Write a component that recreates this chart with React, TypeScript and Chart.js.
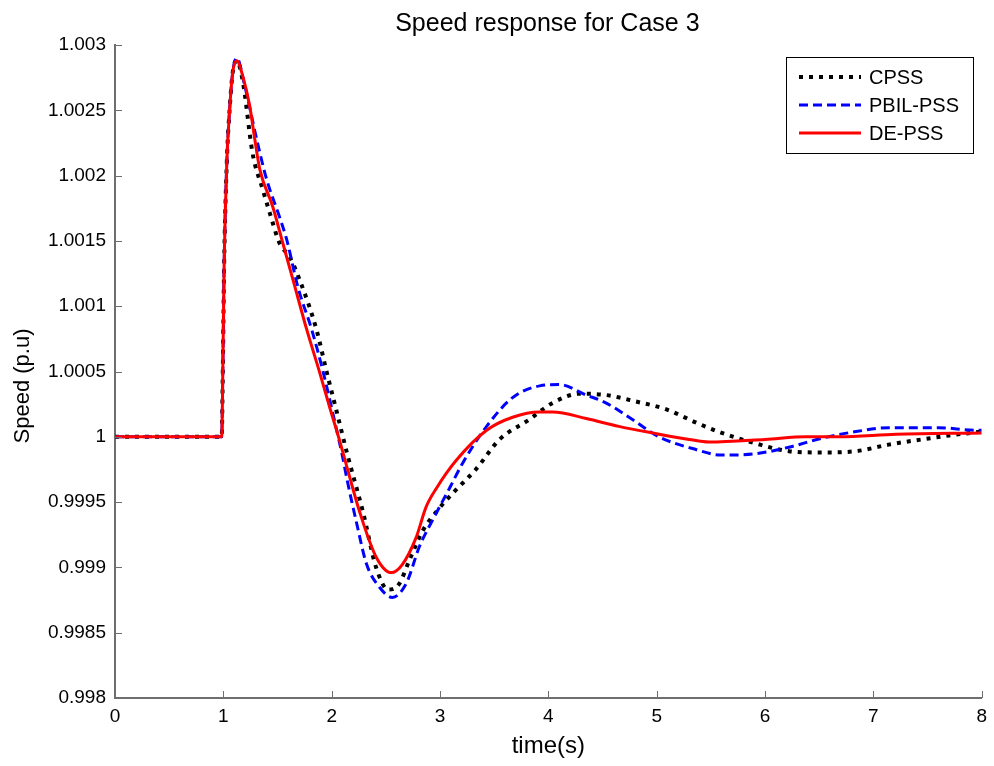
import React, { useEffect, useRef } from "react";
import { Chart, registerables } from "chart.js";

Chart.register(...registerables);

const chartTitle = "Speed response for Case 3";
const xAxisTitle = "time(s)";
const yAxisTitle = "Speed (p.u)";
const seriesNames = ["CPSS", "PBIL-PSS", "DE-PSS"];

const xTicks = [0, 1, 2, 3, 4, 5, 6, 7, 8];
const xTickLabels = ["0", "1", "2", "3", "4", "5", "6", "7", "8"];
const yTicks = [0.998, 0.9985, 0.999, 0.9995, 1.0, 1.0005, 1.001, 1.0015, 1.002, 1.0025, 1.003];
const yTickLabels = ["0.998", "0.9985", "0.999", "0.9995", "1", "1.0005", "1.001", "1.0015", "1.002", "1.0025", "1.003"];

const cpssT = [0, 0.985, 0.995, 1.007, 1.032, 1.06, 1.088, 1.124, 1.18, 1.27, 1.365, 1.43, 1.52, 1.61, 1.705, 1.86, 1.95, 2.05, 2.14, 2.29, 2.41, 2.52, 2.62, 2.72, 2.84, 2.97, 3.12, 3.33, 3.55, 3.82, 4.04, 4.29, 4.53, 4.81, 5.09, 5.36, 5.6, 5.91, 6.22, 6.53, 6.84, 7.14, 7.45, 7.7, 8.0];
const cpssV = [1.0, 1.0, 1.0005, 1.0013, 1.0021, 1.00253, 1.0028, 1.00288, 1.00272, 1.00217, 1.00189, 1.00171, 1.00148, 1.00138, 1.0012, 1.00082, 1.00051, 1.00018, 0.99988, 0.99942, 0.999, 0.99883, 0.99887, 0.99906, 0.99928, 0.99943, 0.99957, 0.99975, 0.99998, 1.00013, 1.00026, 1.00033, 1.00032, 1.00027, 1.00021, 1.00011, 1.00003, 0.99995, 0.99989, 0.99988, 0.99989, 0.99994, 0.99998, 1.00001, 1.00004];

const pbilT = [0, 0.985, 0.995, 1.007, 1.032, 1.06, 1.088, 1.124, 1.2, 1.31, 1.4, 1.52, 1.585, 1.687, 1.816, 1.92, 2.03, 2.1, 2.14, 2.23, 2.32, 2.44, 2.56, 2.69, 2.81, 2.93, 3.09, 3.21, 3.43, 3.67, 3.92, 4.1, 4.35, 4.53, 4.78, 5.02, 5.33, 5.6, 5.91, 6.22, 6.53, 6.84, 7.14, 7.6, 7.94, 8.0];
const pbilV = [1.0, 1.0, 1.0005, 1.0013, 1.0021, 1.00253, 1.0028, 1.0029, 1.00268, 1.00227, 1.00197, 1.00168, 1.00151, 1.00115, 1.00082, 1.0005, 1.00011, 0.99985, 0.99968, 0.99934, 0.99903, 0.99885, 0.99877, 0.99888, 0.99916, 0.99936, 0.99961, 0.9998, 1.00008, 1.0003, 1.00039, 1.0004, 1.00032, 1.00026, 1.00013, 1.0, 0.99991, 0.99986, 0.99987, 0.99992, 0.99999, 1.00004, 1.00007, 1.00007, 1.00005, 1.00005];

const deT = [0, 0.985, 0.995, 1.007, 1.032, 1.06, 1.088, 1.124, 1.18, 1.244, 1.29, 1.336, 1.457, 1.55, 1.65, 1.77, 1.89, 1.98, 2.07, 2.16, 2.26, 2.41, 2.55, 2.65, 2.78, 2.87, 2.97, 3.15, 3.43, 3.67, 3.92, 4.04, 4.35, 4.65, 4.96, 5.3, 5.48, 6.0, 6.38, 6.68, 7.21, 8.0];
const deV = [1.0, 1.0, 1.0005, 1.0013, 1.0021, 1.00253, 1.0028, 1.00288, 1.00276, 1.00253, 1.00228, 1.00205, 1.00176, 1.00148, 1.00118, 1.00082, 1.00049, 1.00023, 0.99998, 0.99971, 0.99942, 0.99908, 0.99896, 0.99902, 0.99923, 0.99946, 0.99961, 0.99982, 1.00005, 1.00015, 1.00019, 1.00019, 1.00014, 1.00008, 1.00003, 0.99998, 0.99996, 0.99998, 1.0, 1.0, 1.00002, 1.00003];

const FONT = "'Liberation Sans', Arial, Helvetica, sans-serif";
const AXIS_COLOR = "#6e6e6e";

const toPoints = (t: number[], v: number[]) => t.map((x, i) => ({ x, y: v[i] }));

const styles = [
  { color: "#000000", width: 4, dash: [4, 6], order: 3 },
  { color: "#0000ff", width: 3, dash: [9, 5], order: 2 },
  { color: "#ff0000", width: 3, dash: [] as number[], order: 1 },
];

const decorPlugin = {
  id: "decor",
  afterDraw(chart: any) {
    const { ctx, chartArea, scales } = chart;
    const xs = scales.x;
    const ys = scales.y;
    ctx.save();
    // inward ticks
    ctx.strokeStyle = AXIS_COLOR;
    ctx.lineWidth = 1;
    const tl = 7;
    xTicks.forEach((v) => {
      const px = Math.round(xs.getPixelForValue(v)) + 0.5;
      ctx.beginPath();
      ctx.moveTo(px, chartArea.bottom);
      ctx.lineTo(px, chartArea.bottom - tl);
      ctx.stroke();
    });
    yTicks.forEach((v) => {
      const py = Math.round(ys.getPixelForValue(v)) + 0.5;
      ctx.beginPath();
      ctx.moveTo(chartArea.left, py);
      ctx.lineTo(chartArea.left + tl, py);
      ctx.stroke();
    });

    // title
    ctx.fillStyle = "#000";
    ctx.textAlign = "center";
    ctx.textBaseline = "alphabetic";
    ctx.font = `25px ${FONT}`;
    ctx.fillText(chartTitle, (chartArea.left + chartArea.right) / 2 - 1, 31);

    // x title
    ctx.font = `24px ${FONT}`;
    ctx.fillText(xAxisTitle, (chartArea.left + chartArea.right) / 2, 753);

    // y title
    ctx.save();
    ctx.translate(29, 386);
    ctx.rotate(-Math.PI / 2);
    ctx.font = `22px ${FONT}`;
    ctx.fillText(yAxisTitle, 0, 0);
    ctx.restore();

    // legend
    const bx = 786, by = 57, bw = 187, bh = 96;
    ctx.fillStyle = "#fff";
    ctx.fillRect(bx, by, bw, bh);
    ctx.strokeStyle = "#000";
    ctx.lineWidth = 1;
    ctx.strokeRect(bx + 0.5, by + 0.5, bw, bh);
    const rows = [77, 105, 133];
    seriesNames.forEach((name, i) => {
      const s = styles[i];
      ctx.save();
      ctx.strokeStyle = s.color;
      ctx.lineWidth = s.width;
      ctx.setLineDash(s.dash);
      ctx.lineCap = "butt";
      ctx.beginPath();
      ctx.moveTo(799, rows[i]);
      ctx.lineTo(861, rows[i]);
      ctx.stroke();
      ctx.restore();
      ctx.fillStyle = "#000";
      ctx.textAlign = "left";
      ctx.textBaseline = "middle";
      ctx.font = `20px ${FONT}`;
      ctx.fillText(name, 869, rows[i] + 1);
    });
    ctx.restore();
  },
};

export default function App() {
  const ref = useRef<HTMLCanvasElement | null>(null);
  useEffect(() => {
    if (!ref.current) return;
    const series = [toPoints(cpssT, cpssV), toPoints(pbilT, pbilV), toPoints(deT, deV)];
    const chart = new Chart(ref.current, {
      type: "line",
      data: {
        datasets: series.map((data, i) => ({
          label: seriesNames[i],
          data,
          borderColor: styles[i].color,
          borderWidth: styles[i].width,
          borderDash: styles[i].dash,
          borderCapStyle: "butt",
          pointRadius: 0,
          fill: false,
          cubicInterpolationMode: "monotone",
          order: styles[i].order,
        })),
      },
      options: {
        animation: false,
        responsive: false,
        devicePixelRatio: 1,
        layout: { padding: { top: 45, right: 12, left: 0, bottom: 0 } },
        plugins: { legend: { display: false }, title: { display: false }, tooltip: { enabled: false } },
        scales: {
          x: {
            type: "linear",
            min: 0,
            max: 8,
            afterFit: (s: any) => { s.height = 68; },
            afterBuildTicks: (s: any) => { s.ticks = xTicks.map((v) => ({ value: v })); },
            grid: { display: false, drawTicks: false },
            border: { display: true, color: AXIS_COLOR, width: 2 },
            ticks: {
              padding: 7,
              color: "#000",
              font: { family: FONT, size: 19 },
              maxRotation: 0,
              callback: (_v: any, i: number) => xTickLabels[i],
            },
          },
          y: {
            type: "linear",
            min: 0.998,
            max: 1.003,
            afterFit: (s: any) => { s.width = 115; },
            afterBuildTicks: (s: any) => { s.ticks = yTicks.map((v) => ({ value: v })); },
            grid: { display: false, drawTicks: false },
            border: { display: true, color: AXIS_COLOR, width: 2 },
            ticks: {
              padding: 9,
              color: "#000",
              font: { family: FONT, size: 19 },
              callback: (_v: any, i: number) => yTickLabels[i],
            },
          },
        },
      },
      plugins: [decorPlugin],
    } as any);
    return () => chart.destroy();
  }, []);
  return (
    <div style={{ position: "absolute", left: 0, top: 0, width: 994, height: 766, background: "#fff" }}>
      <canvas ref={ref} width={994} height={766} />
    </div>
  );
}
